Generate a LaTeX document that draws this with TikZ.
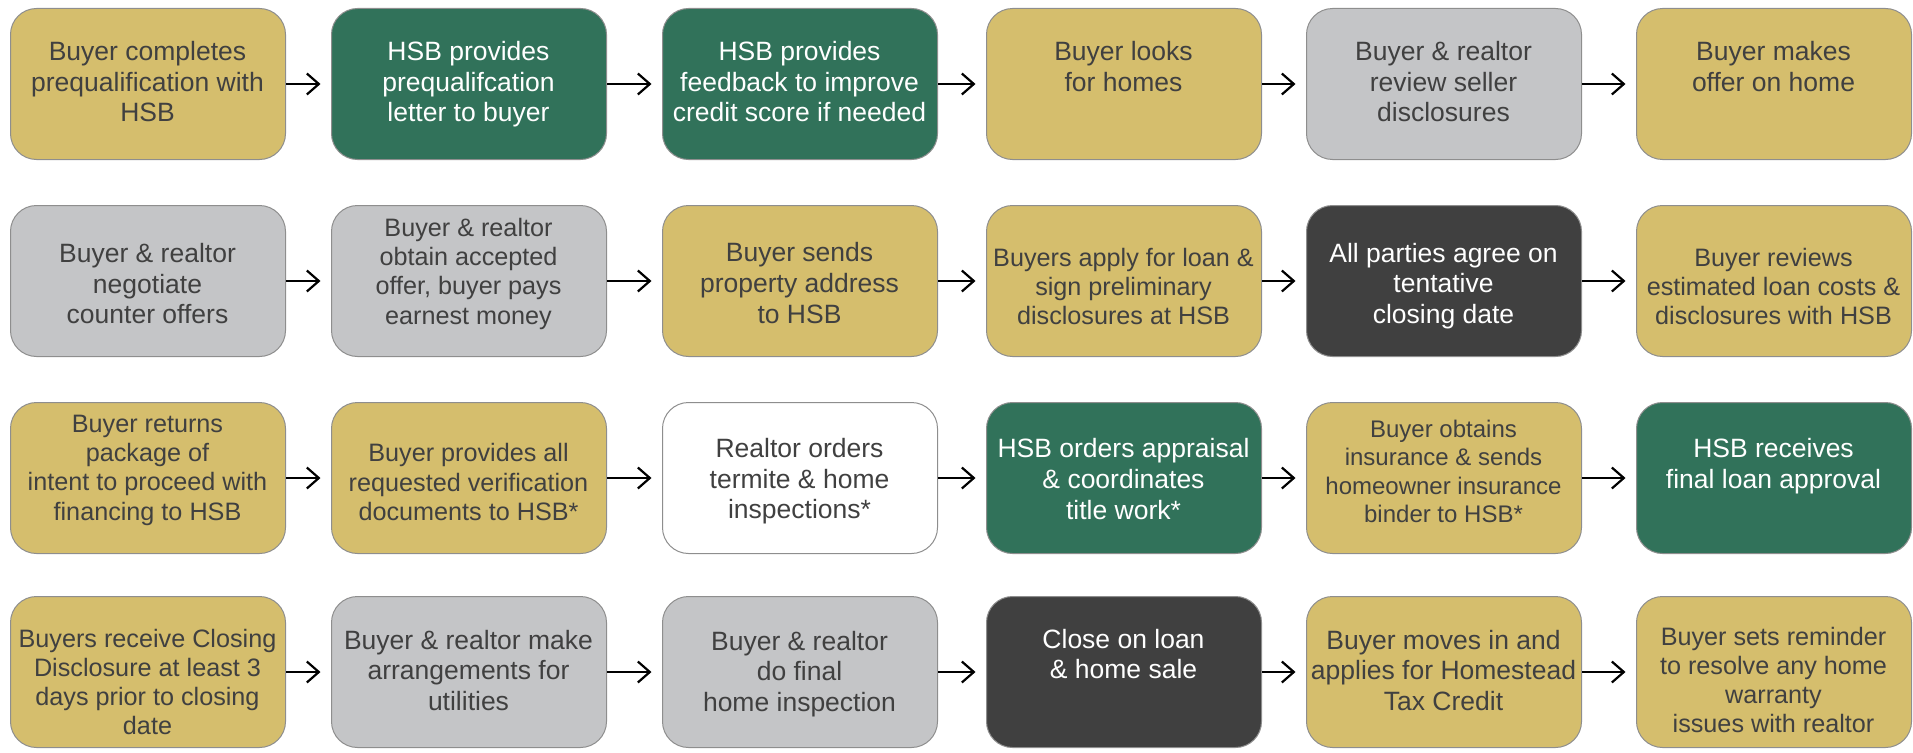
\documentclass[tikz,border=0pt]{standalone}
\usepackage{fontspec}
\setmainfont{Liberation Sans}
\usetikzlibrary{arrows.meta}
\definecolor{cgold}{HTML}{D5BE6D}
\definecolor{cgreen}{HTML}{31725A}
\definecolor{cgray}{HTML}{C4C5C7}
\definecolor{cdark}{HTML}{404040}
\definecolor{ctxt}{HTML}{404040}
\definecolor{cedge}{HTML}{8E8E8E}
\begin{document}
\begin{tikzpicture}[x=1pt,y=-1pt,
  box/.style={draw=cedge, line width=1pt, rounded corners=26pt, minimum width=275pt, minimum height=151pt, anchor=north west, inner sep=0pt},
  gold/.style={box, fill=cgold},
  green/.style={box, fill=cgreen},
  grey/.style={box, fill=cgray},
  dark/.style={box, fill=cdark},
  plain/.style={box, fill=white},
  lbl/.style={align=center, inner sep=0pt, text=ctxt, font=\fontsize{26.5}{30.6}\selectfont, execute at begin node=\strut, execute at end node=\strut},
  sm/.style={font=\fontsize{25.2}{29.2}\selectfont},
  xs/.style={font=\fontsize{24}{28.3}\selectfont},
  wt/.style={text=white},
  arr/.style={draw=black, line width=2.2pt, -{Straight Barb[length=12pt,width=21pt]}, shorten >=10.5pt}
]
\useasboundingbox (0,0) rectangle (1913,752);

% Row 1
\node[gold]  (a1) at (10,8) {};
\node[green] (a2) at (331,8) {};
\node[green] (a3) at (662,8) {};
\node[gold]  (a4) at (986,8) {};
\node[grey]  (a5) at (1306,8) {};
\node[gold]  (a6) at (1636,8) {};
\node[lbl] (ta1) at (147.5,86) {Buyer completes\\prequalification with\\HSB};
\node[lbl,wt] (ta2) at (468.5,86) {HSB provides\\prequalifcation\\letter to buyer};
\node[lbl,wt] (ta3) at (799.5,86) {HSB provides\\feedback to improve\\credit score if needed};
\node[lbl] (ta4) at (1123.5,71) {Buyer looks\\for homes};
\node[lbl] (ta5) at (1443.5,86) {Buyer \& realtor\\review seller\\disclosures};
\node[lbl] (ta6) at (1773.5,71) {Buyer makes\\offer on home};

% Row 2
\node[grey]  (b1) at (10,205) {};
\node[grey]  (b2) at (331,205) {};
\node[gold]  (b3) at (662,205) {};
\node[gold]  (b4) at (986,205) {};
\node[dark]  (b5) at (1306,205) {};
\node[gold]  (b6) at (1636,205) {};
\node[lbl] (tb1) at (147.5,288) {Buyer \& realtor\\negotiate\\counter offers};
\node[lbl,sm] (tb2) at (468.5,275.5) {Buyer \& realtor\\obtain accepted\\offer, buyer pays\\earnest money};
\node[lbl] (tb3) at (799.5,287.4) {Buyer sends\\property address\\to HSB};
\node[lbl,sm] (tb4) at (1123.5,290.8) {Buyers apply for loan \&\\sign preliminary\\disclosures at HSB};
\node[lbl,wt] (tb5) at (1443.5,287.7) {All parties agree on\\tentative\\closing date};
\node[lbl,sm] (tb6) at (1773.5,290.8) {Buyer reviews\\estimated loan costs \&\\disclosures with HSB};

% Row 3
\node[gold]  (c1) at (10,402) {};
\node[gold]  (c2) at (331,402) {};
\node[plain] (c3) at (662,402) {};
\node[green] (c4) at (986,402) {};
\node[gold]  (c5) at (1306,402) {};
\node[green] (c6) at (1636,402) {};
\node[lbl,sm] (tc1) at (147.5,472) {Buyer returns\\package of\\intent to proceed with\\financing to HSB};
\node[lbl,sm] (tc2) at (468.5,486.3) {Buyer provides all\\requested verification\\documents to HSB*};
\node[lbl] (tc3) at (799.5,483.3) {Realtor orders\\termite \& home\\inspections*};
\node[lbl,wt] (tc4) at (1123.5,483.5) {HSB orders appraisal\\\& coordinates\\title work*};
\node[lbl,xs] (tc5) at (1443.5,475.5) {Buyer obtains\\insurance \& sends\\homeowner insurance\\binder to HSB*};
\node[lbl,wt] (tc6) at (1773.5,468) {HSB receives\\final loan approval};

% Row 4
\node[gold]  (d1) at (10,596) {};
\node[grey]  (d2) at (331,596) {};
\node[grey]  (d3) at (662,596) {};
\node[dark]  (d4) at (986,596) {};
\node[gold]  (d5) at (1306,596) {};
\node[gold]  (d6) at (1636,596) {};
\node[lbl,sm] (td1) at (147.5,686.3) {Buyers receive Closing\\Disclosure at least 3\\days prior to closing\\date};
\node[lbl] (td2) at (468.5,674.7) {Buyer \& realtor make\\arrangements for\\utilities};
\node[lbl] (td3) at (799.5,675.8) {Buyer \& realtor\\do final\\home inspection};
\node[lbl,wt] (td4) at (1123.5,658.3) {Close on loan\\\& home sale};
\node[lbl] (td5) at (1443.5,674.7) {Buyer moves in and\\applies for Homestead\\Tax Credit};
\node[lbl,sm] (td6) at (1773.5,684.3) {Buyer sets reminder\\to resolve any home\\warranty\\issues with realtor};

% Arrows
\foreach \r in {a,b,c,d}{
  \draw[arr] (\r1.east) -- (\r2.west);
  \draw[arr] (\r2.east) -- (\r3.west);
  \draw[arr] (\r3.east) -- (\r4.west);
  \draw[arr] (\r4.east) -- (\r5.west);
  \draw[arr] (\r5.east) -- (\r6.west);
}
\end{tikzpicture}
\end{document}
